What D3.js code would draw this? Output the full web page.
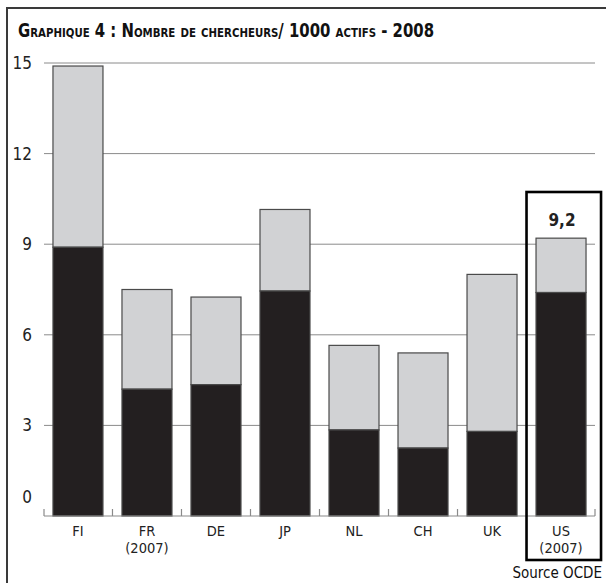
<!DOCTYPE html>
<html>
<head>
<meta charset="utf-8">
<script src="https://cdn.jsdelivr.net/npm/d3@7"></script>
<style>
	body { margin: 0; background: #fff; }
	svg { display: block; }
</style>
</head>
<body>
<div class="chart"></div>
<script>
var categories = ['FI', 'FR', 'DE', 'JP', 'NL', 'CH', 'UK', 'US'];
var subLabels = ['', '(2007)', '', '', '', '', '', '(2007)'];
var darkValues = [8.9, 4.2, 4.35, 7.45, 2.85, 2.25, 2.8, 7.4];
var totalValues = [14.9, 7.5, 7.25, 10.15, 5.65, 5.4, 8.0, 9.2];
var yTicks = [0, 3, 6, 9, 12, 15];
var highlight = 'US';
var highlightLabel = '9,2';
var title = 'Graphique 4 : Nombre de chercheurs/ 1000 actifs - 2008';
var source = 'Source OCDE';

var drawChart = function(){
	var w = 606;
	var h = 583;
	var font = '"DejaVu Sans Condensed", "DejaVu Sans", sans-serif';

	var svg = d3.select('.chart').append('svg')
		.attr('width', w)
		.attr('height', h);

	var x = d3.scaleBand()
		.domain(categories)
		.range([44, 595])
		.paddingInner(0.2754)
		.paddingOuter(0.13);

	var y = d3.scaleLinear()
		.domain([0, 15])
		.range([516, 63]);

	/*---------------------------FRAME--------------------------*/

	svg.append('path')
		.attr('d', 'M7,' + h + 'V8H' + w)
		.attr('fill', 'none')
		.attr('stroke', '#3a3a3a')
		.attr('stroke-width', 2);

	svg.append('text')
		.attr('x', 18)
		.attr('y', 37)
		.attr('font-family', font)
		.attr('font-weight', 'bold')
		.attr('font-size', 19)
		.style('font-variant', 'small-caps')
		.attr('fill', '#111')
		.attr('textLength', 416)
		.attr('lengthAdjust', 'spacingAndGlyphs')
		.text(title);

	/*---------------------------GRID--------------------------*/

	svg.append('g').selectAll('line')
		.data(yTicks.filter(function(d){ return d > 0; }))
		.enter().append('line')
		.attr('x1', 44)
		.attr('x2', 595)
		.attr('y1', function(d){ return y(d); })
		.attr('y2', function(d){ return y(d); })
		.attr('stroke', '#8a8a8a')
		.attr('stroke-width', 1);

	svg.append('g').selectAll('text')
		.data(yTicks)
		.enter().append('text')
		.attr('x', 32)
		.attr('y', function(d){ return y(d) + (d === 0 ? -13 : 6); })
		.attr('text-anchor', 'end')
		.attr('font-family', font)
		.attr('font-size', 17)
		.attr('fill', '#222')
		.text(function(d){ return d; });

	/*---------------------------BARS--------------------------*/

	var bars = svg.append('g').selectAll('g')
		.data(categories)
		.enter().append('g');

	bars.append('rect')
		.attr('x', function(d){ return x(d); })
		.attr('width', x.bandwidth())
		.attr('y', function(d, i){ return y(totalValues[i]); })
		.attr('height', function(d, i){ return y(darkValues[i]) - y(totalValues[i]); })
		.attr('fill', '#d1d2d4')
		.attr('stroke', '#4a4a4a')
		.attr('stroke-width', 1.2);

	bars.append('rect')
		.attr('x', function(d){ return x(d); })
		.attr('width', x.bandwidth())
		.attr('y', function(d, i){ return y(darkValues[i]); })
		.attr('height', function(d, i){ return y(0) - y(darkValues[i]); })
		.attr('fill', '#231f20')
		.attr('stroke', '#4a4a4a')
		.attr('stroke-width', 1.2);

	/*---------------------------BASELINE--------------------------*/

	svg.append('line')
		.attr('x1', 44)
		.attr('x2', 595)
		.attr('y1', y(0))
		.attr('y2', y(0))
		.attr('stroke', '#8a8a8a')
		.attr('stroke-width', 1.2);

	var tickXs = categories.map(function(d){ return x(d) - x.step() * x.paddingInner() / 2; });
	tickXs[0] = 44;
	tickXs.push(595);

	svg.append('g').selectAll('line')
		.data(tickXs)
		.enter().append('line')
		.attr('x1', function(d){ return d; })
		.attr('x2', function(d){ return d; })
		.attr('y1', y(0))
		.attr('y2', y(0) - 7)
		.attr('stroke', '#8a8a8a')
		.attr('stroke-width', 1.2);

	/*---------------------------LABELS--------------------------*/

	svg.append('g').selectAll('text')
		.data(categories)
		.enter().append('text')
		.attr('x', function(d){ return x(d) + x.bandwidth() / 2; })
		.attr('y', 536)
		.attr('text-anchor', 'middle')
		.attr('font-family', font)
		.attr('font-size', 14.5)
		.attr('fill', '#222')
		.text(function(d){ return d; });

	svg.append('g').selectAll('text')
		.data(categories.filter(function(d, i){ return subLabels[i]; }))
		.enter().append('text')
		.attr('x', function(d){ return x(d) + x.bandwidth() / 2; })
		.attr('y', 553)
		.attr('text-anchor', 'middle')
		.attr('font-family', font)
		.attr('font-size', 14.5)
		.attr('fill', '#222')
		.text(function(d){ return subLabels[categories.indexOf(d)]; });

	/*---------------------------HIGHLIGHT BOX--------------------------*/

	var hx = x(highlight);
	svg.append('rect')
		.attr('x', hx - 9.5)
		.attr('y', 192)
		.attr('width', x.bandwidth() + 24.5)
		.attr('height', 368)
		.attr('fill', 'none')
		.attr('stroke', '#000')
		.attr('stroke-width', 2.6);

	svg.append('text')
		.attr('x', hx + x.bandwidth() / 2 + 1)
		.attr('y', 226)
		.attr('text-anchor', 'middle')
		.attr('font-family', font)
		.attr('font-weight', 'bold')
		.attr('font-size', 17)
		.attr('fill', '#222')
		.text(highlightLabel);

	svg.append('text')
		.attr('x', 602)
		.attr('y', 578)
		.attr('text-anchor', 'end')
		.attr('font-family', font)
		.attr('font-size', 15)
		.attr('fill', '#111')
		.text(source);
}();
</script>
</body>
</html>
